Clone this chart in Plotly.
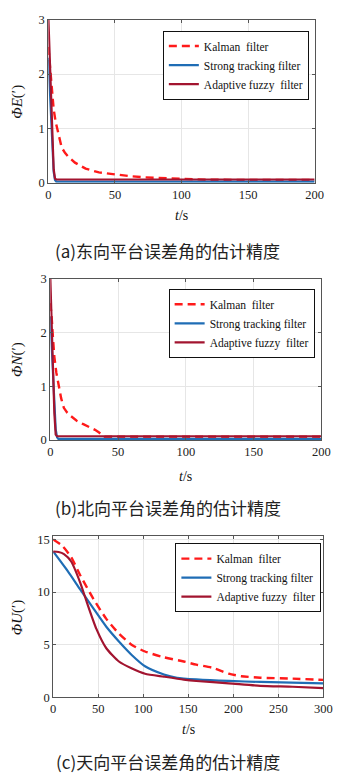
import plotly.graph_objects as go

W, H = 341, 774

# ---------------- Panel (a): east platform error angle ----------------
ta_kal = [0, 1, 2, 3, 4, 5.5, 7, 8.5, 10, 12.5, 15, 20, 28, 38, 50, 62, 72, 86, 98, 108, 120, 200]
ya_kal = [2.5, 2.2, 1.95, 1.65, 1.35, 1.12, 0.95, 0.78, 0.65, 0.55, 0.48, 0.37, 0.26, 0.19, 0.15, 0.12, 0.10, 0.09, 0.075, 0.065, 0.055, 0.05]
ta_stf = [0, 1, 2, 3, 4, 5, 6, 10, 200]
ya_stf = [2.3, 1.8, 1.2, 0.6, 0.2, 0.05, 0.02, 0.02, 0.02]
ta_aff = [0, 1, 2, 3, 4, 5, 6, 200]
ya_aff = [3.05, 2.3, 1.5, 0.8, 0.25, 0.08, 0.06, 0.06]

# ---------------- Panel (b): north platform error angle ----------------
tb_kal = [0, 1, 2, 3, 4.5, 6.5, 8, 10, 12.5, 15, 19.5, 24, 29, 33, 36, 38.5, 40, 200]
yb_kal = [2.55, 2.3, 1.9, 1.55, 1.25, 1.0, 0.78, 0.6, 0.51, 0.45, 0.36, 0.3, 0.24, 0.19, 0.14, 0.09, 0.06, 0.06]
tb_stf = [0, 1, 2, 3, 4, 5, 6, 10, 200]
yb_stf = [2.3, 1.8, 1.2, 0.6, 0.2, 0.05, 0.02, 0.02, 0.02]
tb_aff = [0, 1, 2, 3, 4, 5, 200]
yb_aff = [3.05, 2.2, 1.3, 0.5, 0.1, 0.07, 0.07]

# ---------------- Panel (c): up platform error angle ----------------
tc_kal = [0, 10, 20, 30, 45, 59, 73, 87.5, 102, 123, 145, 159, 177, 195, 209, 230, 266, 300]
yc_kal = [15.0, 14.4, 13.3, 11.6, 9.3, 7.45, 6.05, 4.97, 4.35, 3.8, 3.4, 3.1, 2.8, 2.24, 2.0, 1.86, 1.77, 1.65]
tc_stf = [0, 16, 30, 45, 59, 73, 87.5, 102, 123, 137.5, 159, 195, 230, 300]
yc_stf = [13.85, 12.0, 10.25, 8.4, 6.7, 5.3, 4.0, 2.95, 2.17, 1.86, 1.7, 1.55, 1.46, 1.33]
tc_aff = [0, 6, 12, 20, 30, 37.5, 48, 59, 73, 87.5, 102, 123, 145, 159, 195, 230, 266, 300]
yc_aff = [13.85, 13.8, 13.6, 12.9, 10.9, 9.0, 6.5, 4.66, 3.4, 2.73, 2.24, 1.96, 1.68, 1.55, 1.33, 1.09, 1.0, 0.87]

names = ["Kalman  filter", "Strong tracking filter", "Adaptive fuzzy  filter"]
colors = ["#FF1A1A", "#1F6DB5", "#A2142F"]
captions = ["(a)东向平台误差角的估计精度", "(b)北向平台误差角的估计精度", "(c)天向平台误差角的估计精度"]
ytitles = ["<i>ΦE</i>(′)", "<i>ΦN</i>(′)", "<i>ΦU</i>(′)"]

SERIF = "Liberation Serif, DejaVu Serif, serif"
CJK = "Noto Sans CJK SC, sans-serif"

# pixel layout (top, bottom, left, right) of each plot area
boxes = [(13, 179, 47, 323), (277, 441, 49, 330), (539, 703, 52, 332)]
legend_pos = [(317, 24), (323, 287), (330, 546)]
xtitle_y = [212, 478, 736]
caption_y = [248, 510, 768]

panels = [
    ((ta_kal, ya_kal), (ta_stf, ya_stf), (ta_aff, ya_aff)),
    ((tb_kal, yb_kal), (tb_stf, yb_stf), (tb_aff, yb_aff)),
    ((tc_kal, yc_kal), (tc_stf, yc_stf), (tc_aff, yc_aff)),
]
xranges = [[0, 200], [0, 200], [0, 300]]
yranges = [[0, 3], [0, 3], [0, 15.3]]
ydticks = [1, 1, 5]
xdticks = [50, 50, 50]

fig = go.Figure()
annotations = []
layout = {}
for i, (series, box) in enumerate(zip(panels, boxes)):
    sfx = "" if i == 0 else str(i + 1)
    leg = "legend" if i == 0 else "legend" + str(i + 1)
    for j, (t, y) in enumerate(series):
        line = dict(color=colors[j], width=2.4 if j == 0 else 2.2,
                    dash="8px,5px" if j == 0 else "solid")
        if i == 2:
            line.update(shape="spline", smoothing=0.6)
        fig.add_trace(go.Scatter(
            x=t, y=y, mode="lines", name=names[j],
            xaxis="x" + sfx, yaxis="y" + sfx, legend=leg,
            line=line, showlegend=True,
        ))
    top, bot, left, right = box
    common = dict(showline=True, linecolor="#555", linewidth=1, mirror="ticks",
                  ticks="inside", ticklen=3, tickcolor="#555",
                  showgrid=True, gridcolor="#E6E6E6", gridwidth=1, zeroline=False,
                  tickfont=dict(family=SERIF, size=12.5, color="#222"))
    layout["xaxis" + sfx] = dict(domain=[left / W, right / W], range=xranges[i],
                                 dtick=xdticks[i], anchor="y" + sfx, **common)
    layout["yaxis" + sfx] = dict(domain=[1 - bot / H, 1 - top / H], range=yranges[i],
                                 dtick=ydticks[i], anchor="x" + sfx, **common)
    lx, ly = legend_pos[i]
    layout[leg] = dict(x=lx / W, y=1 - ly / H, xanchor="right", yanchor="top",
                       bgcolor="white", bordercolor="#111", borderwidth=1,
                       font=dict(family=SERIF, size=11.5, color="#111"),
                       tracegroupgap=0, itemwidth=30)
    annotations.append(dict(text=ytitles[i], x=15 / W, y=1 - (top + bot) / 2 / H,
                            xref="paper", yref="paper", showarrow=False, textangle=-90,
                            xanchor="center", yanchor="middle",
                            font=dict(family=SERIF, size=15, color="#111")))
    annotations.append(dict(text="<i>t</i>/s", x=(left + right) / 2 / W, y=1 - xtitle_y[i] / H,
                            xref="paper", yref="paper", showarrow=False,
                            xanchor="center", yanchor="middle",
                            font=dict(family=SERIF, size=14, color="#111")))
    annotations.append(dict(text=captions[i], x=171 / W, y=1 - caption_y[i] / H,
                            xref="paper", yref="paper", showarrow=False,
                            xanchor="center", yanchor="middle",
                            font=dict(family=CJK, size=17, color="#222")))

fig.update_layout(width=W, height=H, margin=dict(l=0, r=0, t=0, b=0),
                  paper_bgcolor="white", plot_bgcolor="white",
                  annotations=annotations, **layout)
fig.write_html("out.html", config={"displayModeBar": False},
               post_script="document.body.style.margin='0';document.body.style.overflow='hidden';")
